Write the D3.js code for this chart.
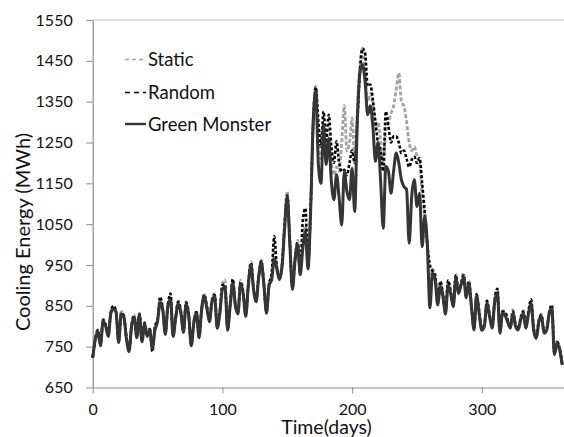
<!DOCTYPE html>
<html><head><meta charset="utf-8">
<script src="https://cdn.jsdelivr.net/npm/d3@7"></script>
<style>body{margin:0;background:#fff}svg{display:block}</style>
</head><body><svg id="c" width="564" height="437"></svg>
<script>
// day index (every 2nd day)
const days = d3.range(0, 363, 2);

const staticVals = [
725,770,792,758,818,806,780,838,848,838,765,836,828,775,742,806,828,778,832,768,
810,780,796,752,796,818,862,846,786,856,870,780,826,862,838,790,860,832,758,814,
838,778,846,880,850,818,866,880,800,838,905,914,796,858,912,856,836,912,886,830,
906,958,896,866,926,962,906,838,906,920,980,950,920,955,1060,1130,1015,900,970,1010,
935,1000,1045,950,1090,1305,1388,1240,1210,1260,1230,1250,1200,1170,1190,1180,1250,1340,1230,1250,
1310,1200,1330,1440,1480,1420,1350,1370,1340,1280,1300,1255,1200,1280,1300,1322,1340,1380,1420,1350,
1339,1300,1250,1230,1240,1215,1200,1120,1069,1000,900,940,925,858,905,880,836,910,888,854,
928,888,906,930,876,912,854,796,880,836,795,806,864,830,800,868,890,788,838,832,
815,800,840,806,796,822,838,800,838,862,795,775,816,830,788,795,836,850,735,764,
748,710];

const randomVals = [
724,769,790,755,815,803,778,835,850,836,763,833,825,773,740,803,825,775,830,765,
808,778,793,738,800,815,872,843,783,853,880,778,823,860,835,788,858,829,755,811,
835,775,843,877,848,814,863,877,798,835,900,902,793,855,915,853,833,908,883,827,
903,955,893,863,923,960,903,835,903,930,1020,945,918,950,1050,1120,1008,895,965,1005,
930,1060,1089,945,1085,1295,1385,1302,1240,1326,1250,1318,1240,1200,1253,1200,1179,1183,1170,1200,
1230,1200,1298,1420,1480,1469,1388,1392,1355,1300,1249,1230,1180,1326,1290,1250,1265,1265,1250,1224,
1230,1210,1190,1208,1215,1200,1212,1150,1080,1000,950,935,925,860,910,878,834,912,884,852,
925,884,904,925,874,910,850,794,878,834,792,804,862,828,798,866,892,786,836,835,
815,798,836,804,795,820,836,798,836,866,794,772,814,828,786,794,834,852,733,762,
746,708];

const greenVals = [
722,767,787,752,812,800,775,832,842,834,760,830,822,770,738,800,822,772,828,762,
805,775,790,745,790,812,858,840,780,850,865,775,820,856,832,785,855,826,752,808,
832,772,840,873,845,811,860,873,795,830,890,897,790,850,905,850,830,905,880,824,
900,950,890,860,920,956,900,832,900,914,965,940,914,946,1040,1118,1000,890,960,1000,
926,990,1032,940,1080,1300,1375,1196,1150,1294,1196,1260,1155,1110,1171,1114,1048,1179,1130,1110,
1187,1081,1300,1420,1441,1400,1318,1340,1290,1204,1250,1155,1040,1192,1180,1126,1180,1224,1200,1159,
1142,1135,1003,1120,1159,1093,1126,995,1069,1000,845,930,914,852,897,873,830,900,880,848,
918,880,900,920,870,905,848,791,873,830,790,800,856,824,795,860,880,783,832,826,
810,795,832,800,791,815,832,795,830,856,790,770,810,824,783,790,830,844,730,758,
742,705];

const seriesNames = ["Static", "Random", "Green Monster"];
const seriesColors = ["#a3a3a3", "#000000", "#353535"];
const yTicks = [650,750,850,950,1050,1150,1250,1350,1450,1550];
const xTicks = [0,100,200,300];
const yTitle = "Cooling Energy (MWh)";
const xTitle = "Time(days)";

const svg = d3.select("#c");
const FONT = "Lato, 'Open Sans', sans-serif";
const x = d3.scaleLinear().domain([0, 365]).range([92.7, 566.1]);
const y = d3.scaleLinear().domain([650, 1550]).range([387.5, 20]);

// top border line
svg.append("line").attr("x1", x(0)).attr("x2", 564).attr("y1", y(1550)).attr("y2", y(1550))
  .attr("stroke", "#c4c4c4").attr("stroke-width", 1);

const yAxis = svg.append("g").attr("transform", `translate(${x(0)},0)`)
  .call(d3.axisLeft(y).tickValues(yTicks).tickFormat(d3.format("d")).tickSize(6.5).tickSizeOuter(0).tickPadding(13.5));
const xAxis = svg.append("g").attr("transform", `translate(0,${y(650)})`)
  .call(d3.axisBottom(x).tickValues(xTicks).tickFormat(d3.format("d")).tickSize(6).tickSizeOuter(0).tickPadding(10));
[yAxis, xAxis].forEach(g => {
  g.select(".domain").attr("stroke", "#8c8c8c").attr("stroke-width", 1.2);
  g.selectAll(".tick line").attr("stroke", "#8c8c8c");
  g.selectAll(".tick text").attr("font-family", FONT).attr("font-size", 16).attr("fill", "#111");
});

const seriesData = [staticVals, randomVals, greenVals];
const dashes = ["4,2", "3,2", null];
const widths = [2.8, 2.6, 3];
const line = d3.line().x((d, i) => x(days[i])).y(d => y(d)).curve(d3.curveMonotoneX);
seriesData.forEach((vals, k) => {
  svg.append("path").datum(vals).attr("d", line).attr("fill", "none")
    .attr("stroke", seriesColors[k]).attr("stroke-width", widths[k])
    .attr("stroke-dasharray", dashes[k]).attr("stroke-linejoin", "round");
});

// legend
const legDash = ["4,3", "5,4", null];
const legY = [59.5, 92.5, 124];
seriesNames.forEach((n, k) => {
  svg.append("line").attr("x1", 125).attr("x2", 146).attr("y1", legY[k]).attr("y2", legY[k])
    .attr("stroke", seriesColors[k]).attr("stroke-width", k === 2 ? 2.4 : 1.6)
    .attr("stroke-dasharray", legDash[k]);
  svg.append("text").attr("x", 148).attr("y", legY[k] + 6.6).text(n)
    .attr("font-family", FONT).attr("font-size", 18.5).attr("fill", "#111");
});

svg.append("text").attr("transform", "translate(30,232) rotate(-90)").attr("text-anchor", "middle")
  .attr("font-family", FONT).attr("font-size", 20).attr("fill", "#111").text(yTitle);
svg.append("text").attr("x", 326.5).attr("y", 434).attr("text-anchor", "middle")
  .attr("font-family", FONT).attr("font-size", 19.5).attr("fill", "#111").text(xTitle);
</script></body></html>
